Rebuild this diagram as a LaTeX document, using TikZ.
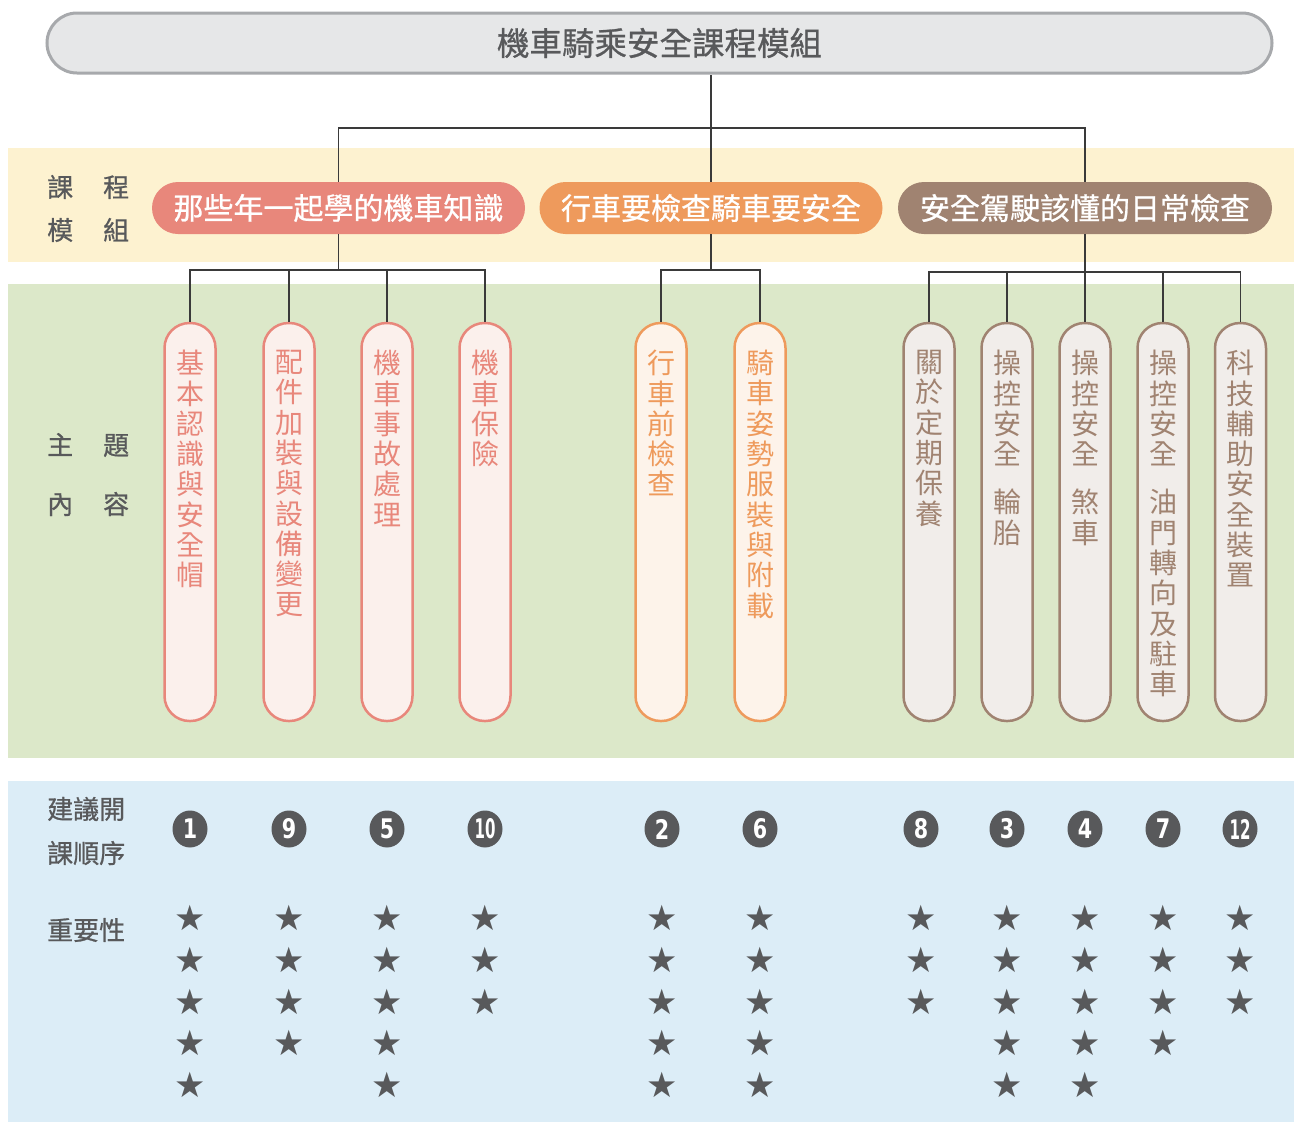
\documentclass[tikz,border=0pt]{standalone}
\usepackage{fontspec}
\usetikzlibrary{shapes.geometric}
\setmainfont{Noto Sans CJK TC}
\newfontfamily\medfont{Noto Sans CJK TC}[FakeBold=0.8]
\newfontfamily\symfont{DejaVu Sans}
\newfontfamily\numfont{DejaVu Sans Condensed}
\definecolor{titlefill}{HTML}{E6E7E8}
\definecolor{titleline}{HTML}{A7A9AC}
\definecolor{bandY}{HTML}{FDF2D0}
\definecolor{bandG}{HTML}{DCE8C9}
\definecolor{bandB}{HTML}{DCEDF7}
\definecolor{sal}{HTML}{E8877B}
\definecolor{salF}{HTML}{FBF0EC}
\definecolor{ora}{HTML}{EE9A5C}
\definecolor{oraF}{HTML}{FDF3EA}
\definecolor{bro}{HTML}{A08371}
\definecolor{broF}{HTML}{F1EDEA}
\definecolor{dgray}{HTML}{58595B}
\definecolor{linec}{HTML}{3A3A3A}
\begin{document}
\begin{tikzpicture}[x=1pt,y=-1pt,
  modpill/.style={rectangle, rounded corners=26pt, minimum height=52pt, text=white,
    font=\medfont\fontsize{30}{30}\selectfont, inner sep=0pt},
  topill/.style={rectangle, rounded corners=25pt, minimum width=51pt, minimum height=398pt,
    line width=2.5pt, inner sep=0pt},
  vtext/.style={anchor=north, align=center, inner sep=0pt, font=\fontsize{28}{30.3}\selectfont},
  rowlab/.style={anchor=west, inner sep=0pt, text=dgray, font=\medfont\fontsize{26}{26}\selectfont},
  conn/.style={draw=linec, line width=1.4pt},
  num/.style={ellipse, fill=dgray, minimum width=35pt, minimum height=37pt, inner sep=0pt, text=white,
    font=\numfont\bfseries\fontsize{27}{27}\selectfont},
  starmark/.style={inner sep=0pt, text=dgray, font=\symfont\fontsize{35}{35}\selectfont}
]
\useasboundingbox (0,0) rectangle (1294,1122);
% bands
\fill[bandY] (8,148) rectangle (1294,262);
\fill[bandG] (8,284) rectangle (1294,758);
\fill[bandB] (8,781) rectangle (1294,1122);

% title
\node[rectangle, rounded corners=30pt, minimum width=1225pt, minimum height=60pt,
  fill=titlefill, draw=titleline, line width=3pt, text=dgray,
  font=\medfont\fontsize{32.5}{32.5}\selectfont] (title) at (659.5,43) {機車騎乘安全課程模組};

% row labels
\node[rowlab] (lab1) at (47,187) {課\hspace{30pt}程};
\node[rowlab] (lab2) at (47,230) {模\hspace{30pt}組};
\node[rowlab] (lab3) at (47,445) {主\hspace{30pt}題};
\node[rowlab] (lab4) at (47,504) {內\hspace{30pt}容};
\node[rowlab] (lab5) at (47,809) {建議開};
\node[rowlab] (lab6) at (47,853) {課順序};
\node[rowlab] (lab7) at (47,930) {重要性};

% module pills
\node[modpill, fill=sal, minimum width=373pt] (m1) at (338.5,208) {那些年一起學的機車知識};
\node[modpill, fill=ora, minimum width=343pt] (m2) at (711,208) {行車要檢查騎車要安全};
\node[modpill, fill=bro, minimum width=374pt] (m3) at (1085,208) {安全駕駛該懂的日常檢查};

% topic pills
\node[topill, draw=sal, fill=salF] (t1) at (190,522) {};
\node[topill, draw=sal, fill=salF] (t2) at (289,522) {};
\node[topill, draw=sal, fill=salF] (t3) at (387,522) {};
\node[topill, draw=sal, fill=salF] (t4) at (485,522) {};
\node[topill, draw=ora, fill=oraF] (t5) at (661,522) {};
\node[topill, draw=ora, fill=oraF] (t6) at (760,522) {};
\node[topill, draw=bro, fill=broF] (t7) at (929,522) {};
\node[topill, draw=bro, fill=broF] (t8) at (1007,522) {};
\node[topill, draw=bro, fill=broF] (t9) at (1085,522) {};
\node[topill, draw=bro, fill=broF] (t10) at (1163,522) {};
\node[topill, draw=bro, fill=broF] (t11) at (1240.5,522) {};

\node[vtext, text=sal] (x1) at (190,350) {基\\本\\認\\識\\與\\安\\全\\帽};
\node[vtext, text=sal] (x2) at (289,350) {配\\件\\加\\裝\\與\\設\\備\\變\\更};
\node[vtext, text=sal] (x3) at (387,350) {機\\車\\事\\故\\處\\理};
\node[vtext, text=sal] (x4) at (485,350) {機\\車\\保\\險};
\node[vtext, text=ora] (x5) at (661,350) {行\\車\\前\\檢\\查};
\node[vtext, text=ora] (x6) at (760,350) {騎\\車\\姿\\勢\\服\\裝\\與\\附\\載};
\node[vtext, text=bro] (x7) at (929,350) {關\\於\\定\\期\\保\\養};
\node[vtext, text=bro] (x8) at (1007,350) {操\\控\\安\\全\\[18pt]輪\\胎};
\node[vtext, text=bro] (x9) at (1085,350) {操\\控\\安\\全\\[18pt]煞\\車};
\node[vtext, text=bro] (x10) at (1163,350) {操\\控\\安\\全\\[18pt]油\\門\\轉\\向\\及\\駐\\車};
\node[vtext, text=bro] (x11) at (1240.5,350) {科\\技\\輔\\助\\安\\全\\裝\\置};

% connectors
\coordinate (bus0) at (0,128);
\coordinate (bus1) at (0,270);
\coordinate (bus2) at (0,270);
\coordinate (bus3) at (0,272);
\draw[conn] (m2.north) -- (m2.north |- title.south);
\draw[conn] (m1.north) |- (bus0 -| m3.north) -- (m3.north);
\draw[conn] (m1.south) -- (m1.south |- bus1);
\draw[conn] (t1.north) |- (bus1 -| t4.north) -- (t4.north);
\draw[conn] (t2.north) -- (t2.north |- bus1);
\draw[conn] (t3.north) -- (t3.north |- bus1);
\draw[conn] (m2.south) -- (m2.south |- bus2);
\draw[conn] (t5.north) |- (bus2 -| t6.north) -- (t6.north);
\draw[conn] (m3.south) -- (m3.south |- bus3);
\draw[conn] (t7.north) |- (bus3 -| t11.north) -- (t11.north);
\draw[conn] (t8.north) -- (t8.north |- bus3);
\draw[conn] (t9.north) -- (t9.north |- bus3);
\draw[conn] (t10.north) -- (t10.north |- bus3);

% order numbers
\node[num] (n1) at (190,829) {\scalebox{0.85}[1]{1}};
\node[num] (n9) at (289,829) {\scalebox{0.85}[1]{9}};
\node[num] (n5) at (387,829) {\scalebox{0.85}[1]{5}};
\node[num] (n10) at (485,829) {\scalebox{0.62}[1]{10}};
\node[num] (n2) at (662,829) {\scalebox{0.85}[1]{2}};
\node[num] (n6) at (760,829) {\scalebox{0.85}[1]{6}};
\node[num] (n8) at (921,829) {\scalebox{0.85}[1]{8}};
\node[num] (n3) at (1007,829) {\scalebox{0.85}[1]{3}};
\node[num] (n4) at (1085,829) {\scalebox{0.85}[1]{4}};
\node[num] (n7) at (1163,829) {\scalebox{0.85}[1]{7}};
\node[num] (n12) at (1240,829) {\scalebox{0.62}[1]{12}};

% importance stars
\foreach \x/\n in {190/5, 289/4, 387/5, 485/3, 662/5, 760/5, 921/3, 1007/5, 1085/5, 1163/4, 1240/3}
  \foreach \k in {1,...,\n}
    \node[starmark] (s\x-\k) at (\x,{918+(\k-1)*41.75}) {★};
\end{tikzpicture}
\end{document}
